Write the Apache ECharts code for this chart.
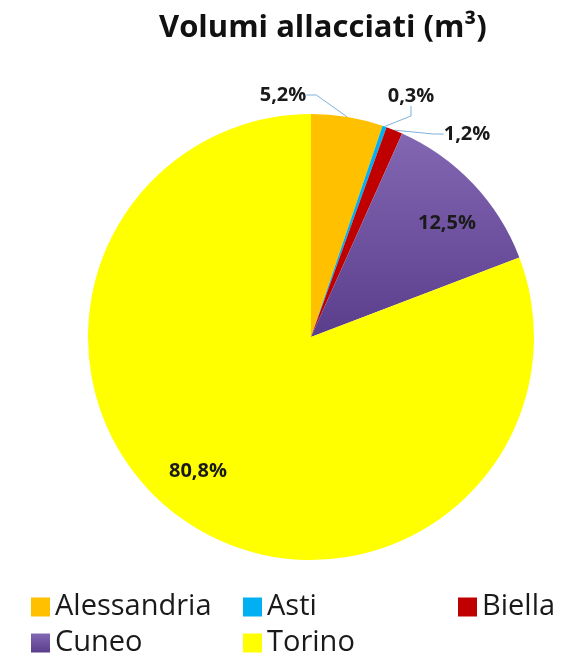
<!DOCTYPE html>
<html>
<head>
<meta charset="utf-8">
<title>Volumi allacciati</title>
<script src="https://cdn.jsdelivr.net/npm/echarts@6/dist/echarts.min.js"></script>
<style>
  html, body { margin: 0; padding: 0; background: #fff; }
  #chart { width: 576px; height: 664px; }
</style>
</head>
<body>
<div id="chart"></div>
<script>
// data
const provinces = ['Alessandria', 'Asti', 'Biella', 'Cuneo', 'Torino'];
const shares = [5.2, 0.3, 1.2, 12.5, 80.8];

const colors = ['#FFC000', '#00B0F0', '#C00000', '#7A5BAA', '#FFFF00'];
const fontFam = '"Open Sans", "Liberation Sans", sans-serif';

// where each percentage label sits (centre of the text)
const labelSpots = {
  Alessandria: [283, 95],
  Asti: [411, 96],
  Biella: [467, 134],
  Cuneo: [447, 223],
  Torino: [198, 471],
};
const outside = ['Alessandria', 'Asti', 'Biella'];

const chart = echarts.init(document.getElementById('chart'));

// Cuneo slice has the old excel-ish shading, lighter at the rim
const cuneoFill = new echarts.graphic.LinearGradient(0, 0, 0, 1, [
  {offset: 0, color: '#8467B3'},
  {offset: 1, color: '#5A3E8C'},
]);

function legendCol(left, names) {
  return {
    orient: 'vertical',
    left: left,
    top: 592,
    padding: 0,
    itemWidth: 19,
    itemHeight: 19,
    itemGap: 6,
    icon: 'rect',
    selectedMode: false,
    data: names,
    textStyle: {
      fontFamily: fontFam,
      fontSize: 29,
      lineHeight: 30,
      color: '#1a1a1a',
    },
  };
}

chart.setOption({
  animation: false,
  color: colors,
  title: {
    text: 'Volumi allacciati (m³)',
    left: 159,
    top: 13,
    padding: 0,
    textStyle: {
      fontFamily: fontFam,
      fontSize: 31,
      fontWeight: 'bold',
      color: '#111',
    },
  },
  legend: [
    legendCol(31, ['Alessandria', 'Cuneo']),
    legendCol(243, ['Asti', 'Torino']),
    legendCol(458, ['Biella']),
  ],
  series: [
    {
      type: 'pie',
      center: [311, 337],
      radius: 223,
      startAngle: 90,
      clockwise: true,
      avoidLabelOverlap: false,
      itemStyle: {borderWidth: 0},
      label: {
        show: true,
        position: 'outside',
        fontFamily: fontFam,
        fontSize: 20,
        fontWeight: 'bold',
        color: '#1a1a1a',
        formatter: p => p.value.toFixed(1).replace('.', ',') + '%',
      },
      labelLine: {
        show: true,
        length: 10,
        length2: 10,
        smooth: false,
        lineStyle: {color: '#7FB0DC', width: 1},
      },
      labelLayout: function (params) {
        const spot = labelSpots[provinces[params.dataIndex]];
        return {
          x: spot[0],
          y: spot[1],
          align: 'center',
          verticalAlign: 'middle',
        };
      },
      emphasis: {disabled: true},
      data: provinces.map((name, i) => ({
        name: name,
        value: shares[i],
        itemStyle: {color: name === 'Cuneo' ? cuneoFill : colors[i]},
        labelLine: {show: outside.indexOf(name) >= 0},
      })),
    },
  ],
});
</script>
</body>
</html>
